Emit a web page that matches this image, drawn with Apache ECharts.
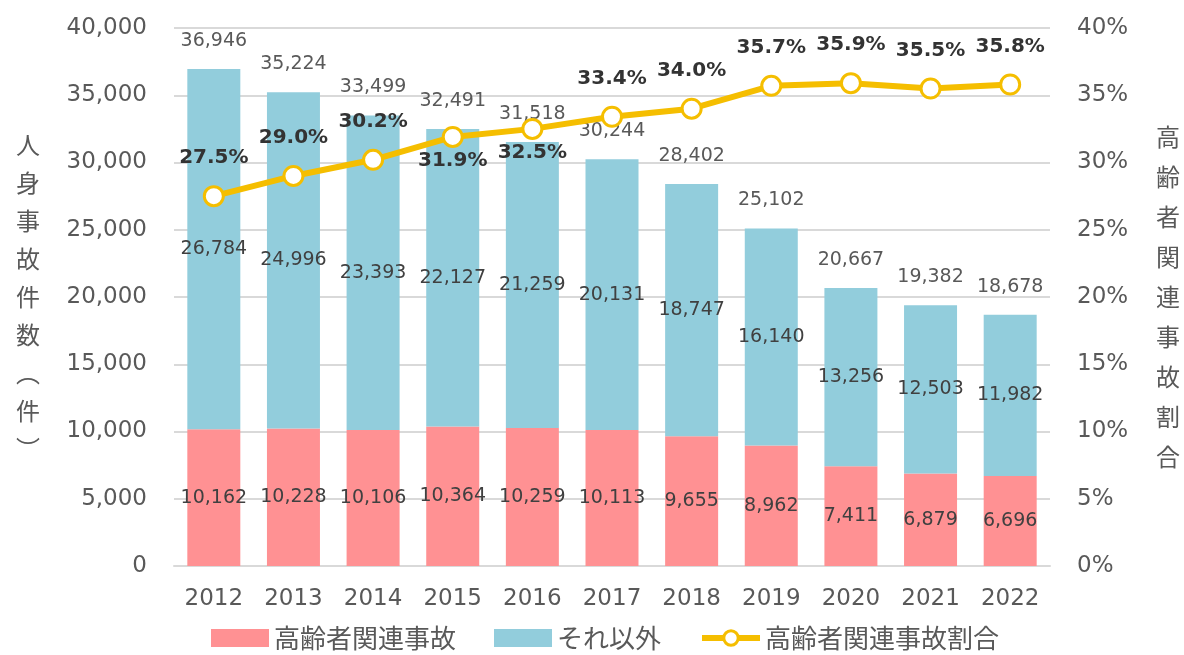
<!DOCTYPE html>
<html><head><meta charset="utf-8">
<script src="https://cdn.jsdelivr.net/npm/echarts@6/dist/echarts.min.js"></script>
<style>html,body{margin:0;padding:0;background:#fff}#c{width:1184px;height:655px}</style>
</head><body><div id="c"></div>
<script>
const years = ['2012','2013','2014','2015','2016','2017','2018','2019','2020','2021','2022'];
const elderly = [10162,10228,10106,10364,10259,10113,9655,8962,7411,6879,6696];
const others = [26784,24996,23393,22127,21259,20131,18747,16140,13256,12503,11982];
const totals = [36946,35224,33499,32491,31518,30244,28402,25102,20667,19382,18678];
const ratio = [27.5,29.0,30.2,31.9,32.5,33.4,34.0,35.7,35.9,35.5,35.8];
const ratioLabelPos = ['top','top','top','bottom','bottom','top','top','top','top','top','top'];
const leftTicks = [0,5000,10000,15000,20000,25000,30000,35000,40000];

const cjk = '"Noto Sans CJK JP","Noto Sans",sans-serif';
const num = '"DejaVu Sans",sans-serif';
const fmt = v => v.toLocaleString('en-US');
const chart = echarts.init(document.getElementById('c'));
chart.setOption({
  animation:false,
  textStyle:{fontFamily:cjk},
  grid:{left:174,right:134,top:28,bottom:89},
  legend:{
    top:620,left:206,itemWidth:58,itemHeight:18,itemGap:38,
    textStyle:{fontSize:26,color:'#595959',fontFamily:cjk},
    data:[{name:'高齢者関連事故',icon:'rect'},{name:'それ以外',icon:'rect'},
          {name:'高齢者関連事故割合',lineStyle:{width:6,color:'#F5BE00'},itemStyle:{color:'#fff',borderColor:'#F5BE00',borderWidth:3}}]
  },
  xAxis:{type:'category',data:years,
    axisLine:{lineStyle:{color:'#d9d9d9',width:2}},axisTick:{show:false},
    axisLabel:{fontSize:23,color:'#595959',margin:22,fontFamily:num}},
  yAxis:[
    {type:'value',min:leftTicks[0],max:leftTicks[leftTicks.length-1],interval:5000,
     name:'人\n身\n事\n故\n件\n数\n︵\n件\n︶',nameLocation:'middle',nameRotate:0,nameGap:134,
     nameTextStyle:{fontSize:24,color:'#595959',lineHeight:38,fontFamily:cjk,padding:[30,0,0,0]},
     axisLabel:{fontSize:23,color:'#595959',margin:27,formatter:v=>fmt(v),fontFamily:num},
     splitLine:{lineStyle:{color:'#d9d9d9',width:2}},axisLine:{show:false},axisTick:{show:false}},
    {type:'value',min:0,max:40,interval:5,
     name:'高\n齢\n者\n関\n連\n事\n故\n割\n合',nameLocation:'middle',nameRotate:0,nameGap:106,
     nameTextStyle:{fontSize:24,color:'#595959',lineHeight:40,fontFamily:cjk},
     axisLabel:{fontSize:23,color:'#595959',margin:27,formatter:'{value}%',fontFamily:num},
     splitLine:{show:false},axisLine:{show:false},axisTick:{show:false}}
  ],
  series:[
    {name:'高齢者関連事故',type:'bar',stack:'a',data:elderly,barWidth:53,
     itemStyle:{color:'#FF9193'},
     label:{show:true,position:'inside',color:'#404040',fontSize:19,formatter:p=>fmt(p.value),fontFamily:num}},
    {name:'それ以外',type:'bar',stack:'a',data:others,barWidth:53,
     itemStyle:{color:'#92CDDC'},
     label:{show:true,position:'inside',color:'#404040',fontSize:19,formatter:p=>fmt(p.value),fontFamily:num}},
    {name:'合計',type:'scatter',data:totals,symbol:'circle',symbolSize:1,
     itemStyle:{color:'rgba(0,0,0,0)',opacity:1},silent:true,
     label:{show:true,position:'top',distance:18,color:'#595959',fontSize:19,formatter:p=>fmt(p.value),fontFamily:num},
     z:5},
    {name:'高齢者関連事故割合',type:'line',yAxisIndex:1,
     data:ratio.map((v,i)=>({value:v,label:{position:ratioLabelPos[i],distance:ratioLabelPos[i]==='top'?17:3}})),
     symbol:'circle',symbolSize:19,
     lineStyle:{color:'#F5BE00',width:6},
     itemStyle:{color:'#fff',borderColor:'#F5BE00',borderWidth:3},
     label:{show:true,color:'#333',fontSize:20,fontWeight:'bold',fontFamily:num,formatter:p=>p.value.toFixed(1)+'%'},
     z:10}
  ]
});
</script></body></html>
